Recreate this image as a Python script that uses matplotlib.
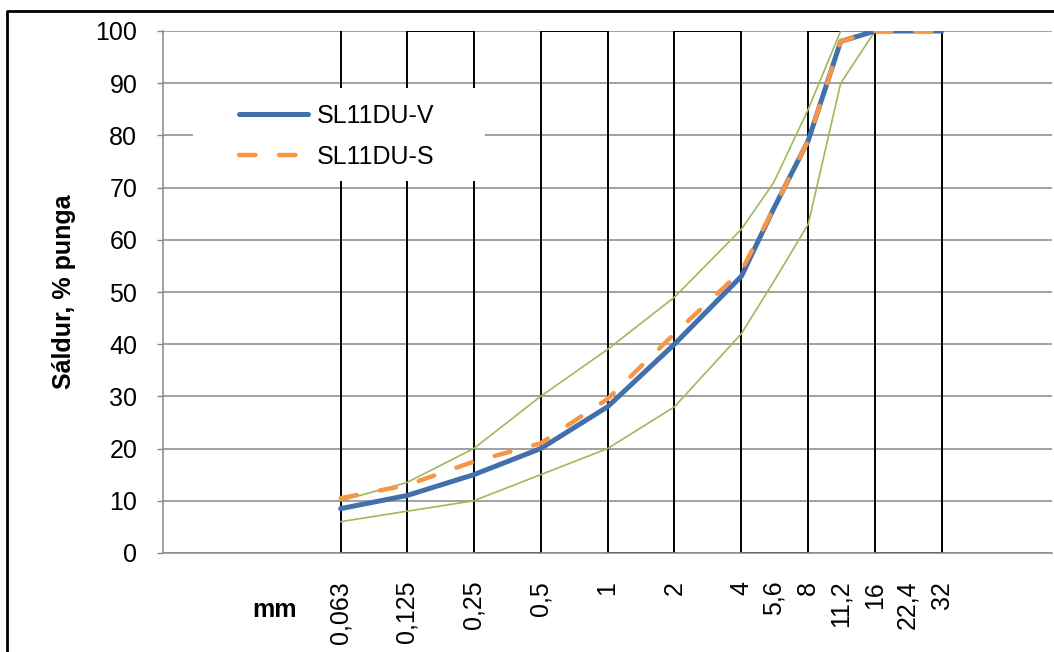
import matplotlib
matplotlib.use("Agg")
import matplotlib.pyplot as plt
from matplotlib.lines import Line2D
from matplotlib.patches import Rectangle
from matplotlib.ticker import NullLocator, FixedLocator, FixedFormatter

plt.rcParams['font.family'] = ['Liberation Sans', 'DejaVu Sans']

# ---- data ----
sieves = [0.063, 0.125, 0.25, 0.5, 1, 2, 4, 5.6, 8, 11.2, 16, 22.4, 32]
sieve_labels = ["0,063", "0,125", "0,25", "0,5", "1", "2", "4", "5,6", "8", "11,2", "16", "22,4", "32"]
sl11du_v = [8.5, 11, 15, 20, 28, 40, 53, 66, 79, 98, 100, 100, 100]
sl11du_s = [10.5, 13, 17.5, 21, 29.5, 42, 54, 66, 79, 98, 100, 100, 100]
upper_limit = [10, 13.5, 20, 30, 39, 49, 62, 71, 85, 100, 100, 100, 100]
lower_limit = [6, 8, 10, 15, 20, 28, 42, 52, 63, 90, 100, 100, 100]
# sieve-band outline (square wave between 0 and 100 at the main sieves)
band_x = [0.063, 0.063, 0.125, 0.125, 0.25, 0.25, 0.5, 0.5, 1, 1, 2, 2, 4, 4, 8, 8, 16, 16, 32, 32]
band_y = [100, 0, 0, 100, 100, 0, 0, 100, 100, 0, 0, 100, 100, 0, 0, 100, 100, 0, 0, 100]
y_ticks = [0, 10, 20, 30, 40, 50, 60, 70, 80, 90, 100]

W, H = 1054, 652
fig = plt.figure(figsize=(W / 100, H / 100), dpi=100)
fig.patch.set_facecolor('white')

ax = fig.add_axes([163 / W, 99 / H, 889 / W, 522 / H])
ax.set_xscale('log')
ax.set_xlim(0.01, 100)
ax.set_ylim(0, 100)

grid_col = '#888888'
for yv in y_ticks:
    ax.axhline(yv, color=grid_col, lw=1.1, zorder=1)

ax.plot(band_x, band_y, color='black', lw=1.4, zorder=2, solid_joinstyle='miter')

ax.plot(sieves, upper_limit, color='#9BBB59', lw=1.2, zorder=3)
ax.plot(sieves, lower_limit, color='#9BBB59', lw=1.2, zorder=3)
l1, = ax.plot(sieves, sl11du_v, color='#4270AA', lw=3.6, zorder=4,
              solid_capstyle='round', solid_joinstyle='round', label='SL11DU-V')
l2, = ax.plot(sieves, sl11du_s, color='#F79646', lw=3.2, zorder=5,
              dash_capstyle='round', dashes=(3.7, 5.3), label='SL11DU-S')

# legend background
ax.add_patch(Rectangle((30 / 889, (553 - 181) / 522), 292 / 889, 93 / 522,
                       transform=ax.transAxes, facecolor='white', edgecolor='none',
                       zorder=6))
leg = ax.legend(handles=[l1, l2], loc='center left',
                bbox_to_anchor=(76 / 889, (553 - 136.5) / 522),
                frameon=False, borderpad=0, borderaxespad=0,
                fontsize=18, handlelength=2.76, handletextpad=0.36,
                labelspacing=0.69)
leg.set_zorder(7)

for s in ['top', 'right']:
    ax.spines[s].set_visible(False)
ax.spines['left'].set_color(grid_col)
ax.spines['bottom'].set_color(grid_col)
ax.spines['left'].set_linewidth(1.1)
ax.spines['bottom'].set_linewidth(1.1)

ax.xaxis.set_minor_locator(NullLocator())
ax.xaxis.set_major_locator(FixedLocator(sieves))
ax.xaxis.set_major_formatter(FixedFormatter(sieve_labels))
ax.tick_params(axis='x', length=0, pad=20, labelsize=18, labelrotation=90)
ax.set_yticks(y_ticks)
ax.tick_params(axis='y', length=4.5, width=1.0, color=grid_col, pad=14, labelsize=18)

fig.text(64 / W, 1 - 292 / H, 'Sáldur, % punga', rotation=90, ha='center', va='center',
         fontsize=18, fontweight='bold')
fig.text(275 / W, 1 - 610 / H, 'mm', ha='center', va='center', fontsize=18, fontweight='bold')

# outer chart border (top and left visible)
fig.add_artist(Line2D([7 / W, 7 / W, 1.0], [0.0, 1 - 11 / H, 1 - 11 / H],
                      transform=fig.transFigure, color='black', lw=2.0))

fig.savefig('out.png', dpi=100)
